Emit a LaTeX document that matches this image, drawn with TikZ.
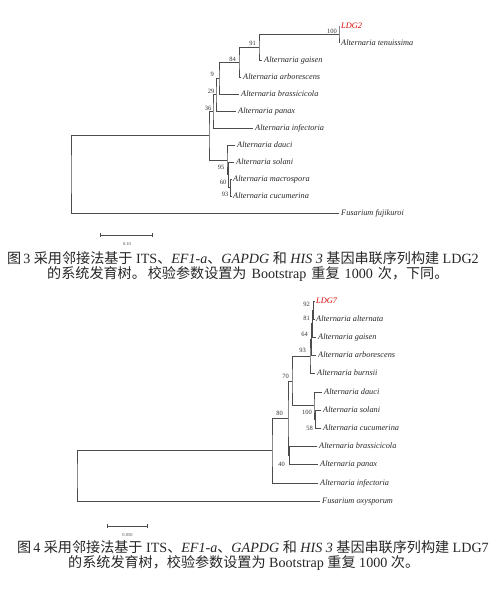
\documentclass[tikz,border=0pt]{standalone}
\usepackage{fontspec}
\setmainfont{Liberation Serif}
\newfontfamily\cjk{Noto Sans CJK SC}
\usetikzlibrary{arrows.meta}

\begin{document}
\begin{tikzpicture}[x=1pt, y=-1pt,
    branch/.style={draw=black!70, line width=0.7pt},
    tip/.style={anchor=west, inner sep=2pt, text height=5.8pt, text depth=1.6pt,
                font=\fontsize{8.3}{9}\selectfont\itshape, text=black!85},
    query/.style={tip, text=red!85!black},
    boot/.style={anchor=east, inner sep=0.5pt, font=\fontsize{6.5}{7}\selectfont, text=black!80},
    scalebar/.style={draw=black!70, line width=0.7pt, {Bar[width=3.5pt]}-{Bar[width=3.5pt]}},
    scaletxt/.style={inner sep=0pt, font=\fontsize{4.5}{5}\selectfont, text=black!70},
    caption/.style={anchor=west, inner sep=0pt, font=\fontsize{14.1}{16}\selectfont, text=black!85}]
  \useasboundingbox (0,0) rectangle (500,591);

  % Fig. 3 -- tree of LDG2
  \node[query] (a-ldg2) at (339,26) {LDG2};
  \node[tip] (a-tenu) at (339,43) {Alternaria tenuissima};
  \node[tip] (a-gais) at (262,60) {Alternaria gaisen};
  \node[tip] (a-arbo) at (241,77) {Alternaria arborescens};
  \node[tip] (a-bras) at (239,94) {Alternaria brassicicola};
  \node[tip] (a-pana) at (236,111) {Alternaria panax};
  \node[tip] (a-infe) at (253,128) {Alternaria infectoria};
  \node[tip] (a-dauc) at (235,145) {Alternaria dauci};
  \node[tip] (a-sola) at (234,162) {Alternaria solani};
  \node[tip] (a-macr) at (231,179) {Alternaria macrospora};
  \node[tip] (a-cucu) at (231,196) {Alternaria cucumerina};
  \node[tip] (a-fusa) at (339,213) {Fusarium fujikuroi};

  \coordinate (a-n100) at (339,34.5);
  \coordinate (a-n91) at (259,47.25);
  \coordinate (a-n84) at (239,62.1);
  \coordinate (a-n9) at (219,78.1);
  \coordinate (a-n29) at (216,94.6);
  \coordinate (a-n36) at (213,111.3);
  \coordinate (a-n60) at (230.5,187.5);
  \coordinate (a-n95) at (228.5,174.75);
  \coordinate (a-nL) at (227,159.9);
  \coordinate (a-nIn) at (209,135.6);
  \coordinate (a-root) at (71,174.3);

  \draw[branch] (a-ldg2.west) -| (a-n100) |- (a-tenu.west);
  \draw[branch] (a-n100) -| (a-n91) |- (a-gais.west);
  \draw[branch] (a-n91) -| (a-n84) |- (a-arbo.west);
  \draw[branch] (a-n84) -| (a-n9) |- (a-bras.west);
  \draw[branch] (a-n9) -| (a-n29) |- (a-pana.west);
  \draw[branch] (a-n29) -| (a-n36) |- (a-infe.west);
  \draw[branch] (a-macr.west) -| (a-n60) |- (a-cucu.west);
  \draw[branch] (a-sola.west) -| (a-n95) |- (a-n60);
  \draw[branch] (a-dauc.west) -| (a-nL) |- (a-n95);
  \draw[branch] (a-n36) -| (a-nIn) |- (a-nL);
  \draw[branch] (a-nIn) -| (a-root) |- (a-fusa.west);

  \node[boot] (a-b100) at (337.5,31) {100};
  \node[boot] (a-b91) at (256.5,43) {91};
  \node[boot] (a-b84) at (236.5,59) {84};
  \node[boot] (a-b9) at (214.5,74) {9};
  \node[boot] (a-b29) at (215,91) {29};
  \node[boot] (a-b36) at (212,108) {36};
  \node[boot] (a-b95) at (225,167) {95};
  \node[boot] (a-b60) at (227,182) {60};
  \node[boot] (a-b93) at (229,194) {93};

  \coordinate (a-s0) at (100,235);
  \coordinate (a-s1) at (153,235);
  \draw[scalebar] (a-s0) -- (a-s1);
  \node[scaletxt] (a-stxt) at (127,244) {0.10};

  \node[caption] (cap3a) at (7,258) {{\cjk 图}\hspace{2pt}3 {\cjk 采用邻接法基于} ITS{\cjk 、}\textit{EF1-a}{\cjk 、}\textit{GAPDG} {\cjk 和} \textit{HIS 3} {\cjk 基因串联序列构建} LDG2};
  \node[caption] (cap3b) at (47,274) {{\cjk 的系统发育树。\hspace{2pt}校验参数设置为}\hspace{1.5pt} Bootstrap \hspace{1.5pt}{\cjk 重复}\hspace{1.5pt} 1000 \hspace{1.5pt}{\cjk 次，下同。}};

  % Fig. 4 -- tree of LDG7
  \node[query] (b-ldg7) at (314,301) {LDG7};
  \node[tip] (b-alte) at (314,319.2) {Alternaria alternata};
  \node[tip] (b-gais) at (316,337.4) {Alternaria gaisen};
  \node[tip] (b-arbo) at (316,355.6) {Alternaria arborescens};
  \node[tip] (b-burn) at (315,373.8) {Alternaria burnsii};
  \node[tip] (b-dauc) at (322,392) {Alternaria dauci};
  \node[tip] (b-sola) at (321,410.2) {Alternaria solani};
  \node[tip] (b-cucu) at (321,428.4) {Alternaria cucumerina};
  \node[tip] (b-bras) at (317,446.6) {Alternaria brassicicola};
  \node[tip] (b-pana) at (318,464.8) {Alternaria panax};
  \node[tip] (b-infe) at (318,483) {Alternaria infectoria};
  \node[tip] (b-fusa) at (320,501.2) {Fusarium oxysporum};

  \coordinate (b-n92) at (313.5,310.1);
  \coordinate (b-n81) at (312.8,323.75);
  \coordinate (b-n64) at (311.5,339.7);
  \coordinate (b-n93) at (310,356.75);
  \coordinate (b-n58) at (315.5,419.3);
  \coordinate (b-n100) at (314,405.65);
  \coordinate (b-n70) at (292,381.2);
  \coordinate (b-n40) at (289.5,455.7);
  \coordinate (b-n80) at (288,418.45);
  \coordinate (b-nIn) at (272,450.7);
  \coordinate (b-root) at (77,475.95);

  \draw[branch] (b-ldg7.west) -| (b-n92) |- (b-alte.west);
  \draw[branch] (b-n92) -| (b-n81) |- (b-gais.west);
  \draw[branch] (b-n81) -| (b-n64) |- (b-arbo.west);
  \draw[branch] (b-n64) -| (b-n93) |- (b-burn.west);
  \draw[branch] (b-sola.west) -| (b-n58) |- (b-cucu.west);
  \draw[branch] (b-dauc.west) -| (b-n100) |- (b-n58);
  \draw[branch] (b-n93) -| (b-n70) |- (b-n100);
  \draw[branch] (b-bras.west) -| (b-n40) |- (b-pana.west);
  \draw[branch] (b-n70) -| (b-n80) |- (b-n40);
  \draw[branch] (b-n80) -| (b-nIn) |- (b-infe.west);
  \draw[branch] (b-nIn) -| (b-root) |- (b-fusa.west);

  \node[boot] (b-b92) at (310.5,304) {92};
  \node[boot] (b-b81) at (310.5,318) {81};
  \node[boot] (b-b64) at (308.5,334) {64};
  \node[boot] (b-b93) at (306.5,350) {93};
  \node[boot] (b-b70) at (289.5,376) {70};
  \node[boot] (b-b80) at (283.5,413) {80};
  \node[boot] (b-b100) at (312.5,412) {100};
  \node[boot] (b-b58) at (313.5,428) {58};
  \node[boot] (b-b40) at (285.5,464) {40};

  \coordinate (b-s0) at (107,526);
  \coordinate (b-s1) at (148,526);
  \draw[scalebar] (b-s0) -- (b-s1);
  \node[scaletxt] (b-stxt) at (127.5,535) {0.050};

  \node[caption] (cap4a) at (17,547) {{\cjk 图}\hspace{2pt}4 {\cjk 采用邻接法基于} ITS{\cjk 、}\textit{EF1-a}{\cjk 、}\textit{GAPDG} {\cjk 和} \textit{HIS 3} {\cjk 基因串联序列构建} LDG7};
  \node[caption] (cap4b) at (68,563) {{\cjk 的系统发育树，校验参数设置为} Bootstrap {\cjk 重复} 1000 {\cjk 次。}};
\end{tikzpicture}
\end{document}
